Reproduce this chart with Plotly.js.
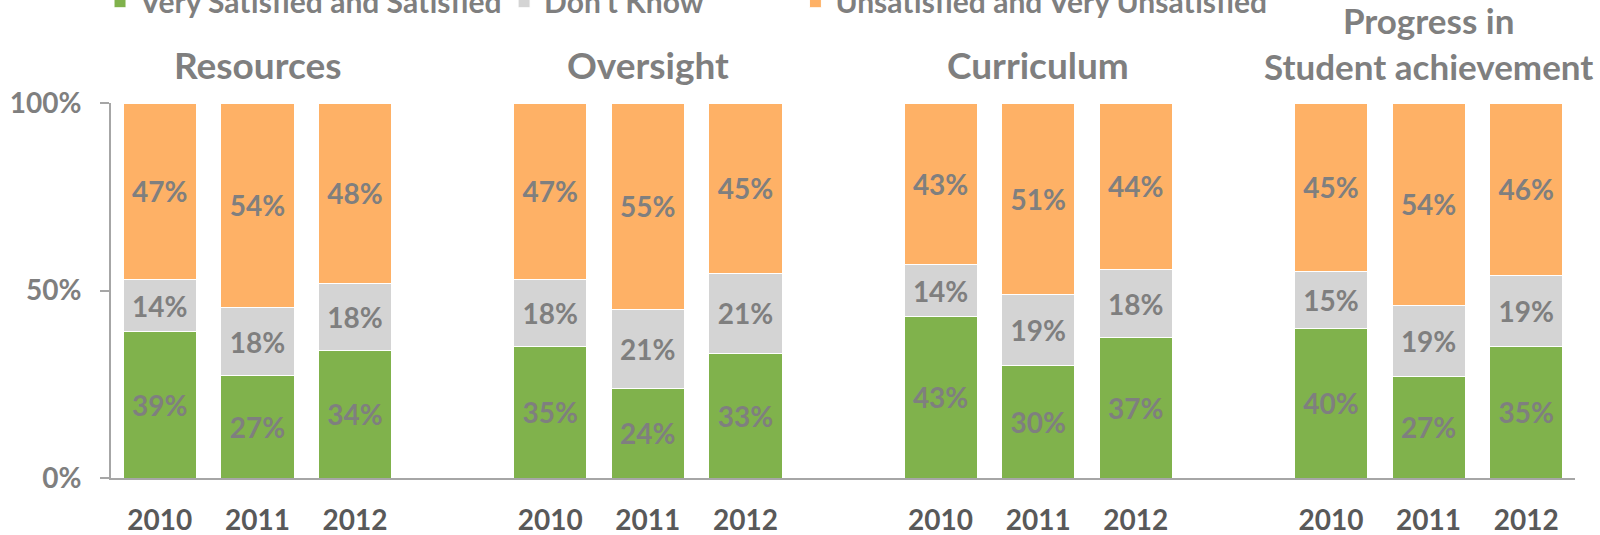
<!DOCTYPE html>
<html><head><meta charset="utf-8">
<script src="https://cdn.plot.ly/plotly-3.0.1.min.js"></script>
<style>html,body{margin:0;padding:0;background:#fff}#chart{width:1600px;height:535px}</style>
</head><body><div id="chart"></div>
<script>
const groups = ['Resources', 'Oversight', 'Curriculum', 'Progress in<br>Student achievement'];
const years = ['2010', '2011', '2012'];
const satisfied   = [39, 27, 34,  35, 24, 33,  43, 30, 37,  40, 27, 35];
const dontKnow    = [14, 18, 18,  18, 21, 21,  14, 19, 18,  15, 19, 19];
const unsatisfied = [47, 54, 48,  47, 55, 45,  43, 51, 44,  45, 54, 46];
const seriesNames = ['Very Satisfied and Satisfied', "Don't Know", 'Unsatisfied and Very Unsatisfied'];
const colors = ['#80b24c', '#d4d4d4', '#feb166'];

const FONT = 'Lato, "Open Sans", sans-serif';
const xpos = [], ticktext = [];
groups.forEach((g, gi) => years.forEach((y, yi) => { xpos.push(gi * 4 + yi); ticktext.push(y); }));

const seriesValues = [satisfied, dontKnow, unsatisfied];
const legendIds = ['legend', 'legend2', 'legend3'];
const traces = seriesValues.map((vals, i) => ({
  type: 'bar',
  name: seriesNames[i],
  x: xpos,
  y: vals,
  text: vals.map(v => v + '%'),
  textposition: 'inside',
  insidetextanchor: 'middle',
  textangle: 0,
  constraintext: 'none',
  textfont: {family: FONT, size: 28, color: '#7f7f7f', weight: 'bold'},
  marker: {color: colors[i], line: {color: '#ffffff', width: 1}},
  legend: legendIds[i],
  hoverinfo: 'name+text'
}));

const legendX = [-0.0075, 0.2685, 0.4675];
const legendBase = {
  orientation: 'h', xanchor: 'left', yanchor: 'middle', y: 1.27,
  font: {family: FONT, size: 30, color: '#7f7f7f', weight: 'bold'},
  bgcolor: 'rgba(0,0,0,0)', borderwidth: 0
};

const titleSizes = [37, 37, 37, 35];
const annotations = groups.map((g, gi) => ({
  text: g, x: gi * 4 + 1, xref: 'x', y: 1.036, yref: 'paper',
  xanchor: 'center', yanchor: 'bottom', showarrow: false,
  font: {family: FONT, size: titleSizes[gi], color: '#7f7f7f', weight: 'bold'}
}));

const layout = {
  width: 1600, height: 535,
  margin: {l: 111, r: 25, t: 103, b: 57, autoexpand: false},
  paper_bgcolor: '#ffffff', plot_bgcolor: '#ffffff',
  barmode: 'stack', barnorm: 'percent', bargap: 0.25,
  showlegend: true,
  legend:  Object.assign({}, legendBase, {x: legendX[0]}),
  legend2: Object.assign({}, legendBase, {x: legendX[1]}),
  legend3: Object.assign({}, legendBase, {x: legendX[2]}),
  xaxis: {
    type: 'linear', range: [-0.5, 14.5], tickvals: xpos, ticktext: ticktext,
    showgrid: false, zeroline: false, showline: true, linecolor: '#a6a6a6', linewidth: 2,
    ticks: '', ticklabelstandoff: 16,
    tickfont: {family: FONT, size: 28, color: '#595959', weight: 'bold'}
  },
  yaxis: {
    range: [0, 100], tickvals: [0, 50, 100], ticktext: ['0%', '50%', '100%'],
    showgrid: false, zeroline: false, showline: true, linecolor: '#a6a6a6', linewidth: 2,
    ticks: 'outside', ticklen: 9, tickwidth: 2, tickcolor: '#a6a6a6', ticklabelstandoff: 13,
    tickfont: {family: FONT, size: 28, color: '#7f7f7f', weight: 'bold'}
  },
  annotations: annotations,
  font: {family: FONT}
};

Plotly.newPlot('chart', traces, layout, {displayModeBar: false, staticPlot: true});
</script>
</body></html>
